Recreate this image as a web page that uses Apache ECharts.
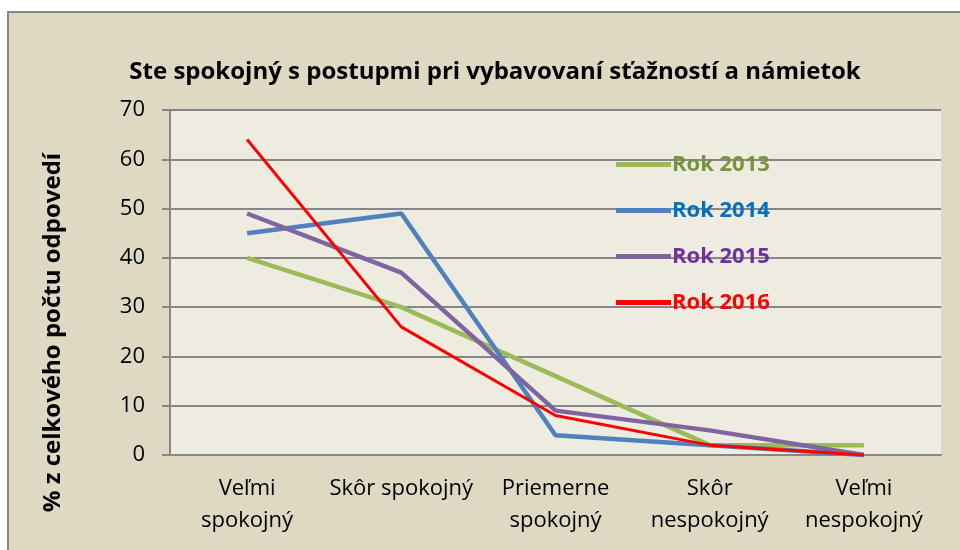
<!DOCTYPE html>
<html>
<head>
<meta charset="utf-8">
<script src="https://cdn.jsdelivr.net/npm/echarts@6/dist/echarts.min.js"></script>
<style>
  html, body { margin: 0; padding: 0; background: #fff; }
  #chart { width: 960px; height: 550px; }
</style>
</head>
<body>
<div id="chart"></div>
<script>
// kategórie a hodnoty (% z celkového počtu odpovedí)
const categories = ['Veľmi\nspokojný', 'Skôr spokojný', 'Priemerne\nspokojný', 'Skôr\nnespokojný', 'Veľmi\nnespokojný']
const rok2013 = [40, 30, 16, 2, 2]
const rok2014 = [45, 49, 4, 2, 0]
const rok2015 = [49, 37, 9, 5, 0]
const rok2016 = [64, 26, 8, 2, 0]

const font = '"Open Sans", Lato, sans-serif'

const seriesDefs = [
  { name: 'Rok 2013', data: rok2013, color: '#9BBB59', text: '#77933C', width: 4.5 },
  { name: 'Rok 2014', data: rok2014, color: '#4F81BD', text: '#0070C0', width: 4.5 },
  { name: 'Rok 2015', data: rok2015, color: '#8064A2', text: '#7030A0', width: 4.5 },
  { name: 'Rok 2016', data: rok2016, color: '#FF0000', text: '#FF0000', width: 3 },
]

const chart = echarts.init(document.getElementById('chart'))

chart.setOption({
  animation: false,
  backgroundColor: '#fff',
  graphic: [
    {
      type: 'rect',
      z: -10,
      shape: { x: 8, y: 12, width: 960, height: 560 },
      style: { fill: '#DDD9C3', stroke: '#868686', lineWidth: 2 },
    },
  ],
  title: {
    text: 'Ste spokojný s postupmi pri vybavovaní sťažností a námietok',
    left: 490,
    top: 55,
    textAlign: 'center',
    textStyle: { fontFamily: font, fontSize: 24, fontWeight: 'bold', color: '#000' },
  },
  legend: {
    orient: 'vertical',
    left: 611,
    top: 147,
    itemWidth: 55,
    itemHeight: 5,
    itemGap: 21,
    icon: 'rect',
    textStyle: { fontFamily: font, fontSize: 22, fontWeight: 'bold', lineHeight: 25, padding: [0, 0, 0, -4] },
    data: seriesDefs.map(s => ({ name: s.name, textStyle: { color: s.text } })),
  },
  grid: { left: 170, right: 19, top: 110, bottom: 95 },
  xAxis: {
    type: 'category',
    data: categories,
    boundaryGap: true,
    axisLine: { show: true, lineStyle: { color: '#868686', width: 2 } },
    axisTick: { show: false },
    axisLabel: {
      interval: 0,
      margin: 18,
      lineHeight: 32,
      fontFamily: font,
      fontSize: 22,
      color: '#000',
    },
  },
  yAxis: {
    type: 'value',
    min: 0,
    max: 70,
    interval: 10,
    name: '% z celkového počtu odpovedí',
    nameLocation: 'middle',
    nameRotate: 90,
    nameGap: 105,
    // posun názvu osi nadol ako v origináli
    nameTextStyle: { fontFamily: font, fontSize: 24, fontWeight: 'bold', color: '#000', padding: [0, 100, 0, 0] },
    axisLine: { show: true, lineStyle: { color: '#868686', width: 2 } },
    axisTick: { show: true, length: 8, lineStyle: { color: '#868686', width: 2 } },
    axisLabel: { margin: 25, fontFamily: font, fontSize: 22, color: '#000' },
    splitLine: { lineStyle: { color: '#868686', width: 2 } },
    splitArea: { show: true, areaStyle: { color: ['#EEECE1', '#EEECE1'] } },
  },
  series: seriesDefs.map(s => ({
    name: s.name,
    type: 'line',
    data: s.data,
    symbol: 'none',
    color: s.color,
    lineStyle: { color: s.color, width: s.width },
  })),
})
</script>
</body>
</html>
